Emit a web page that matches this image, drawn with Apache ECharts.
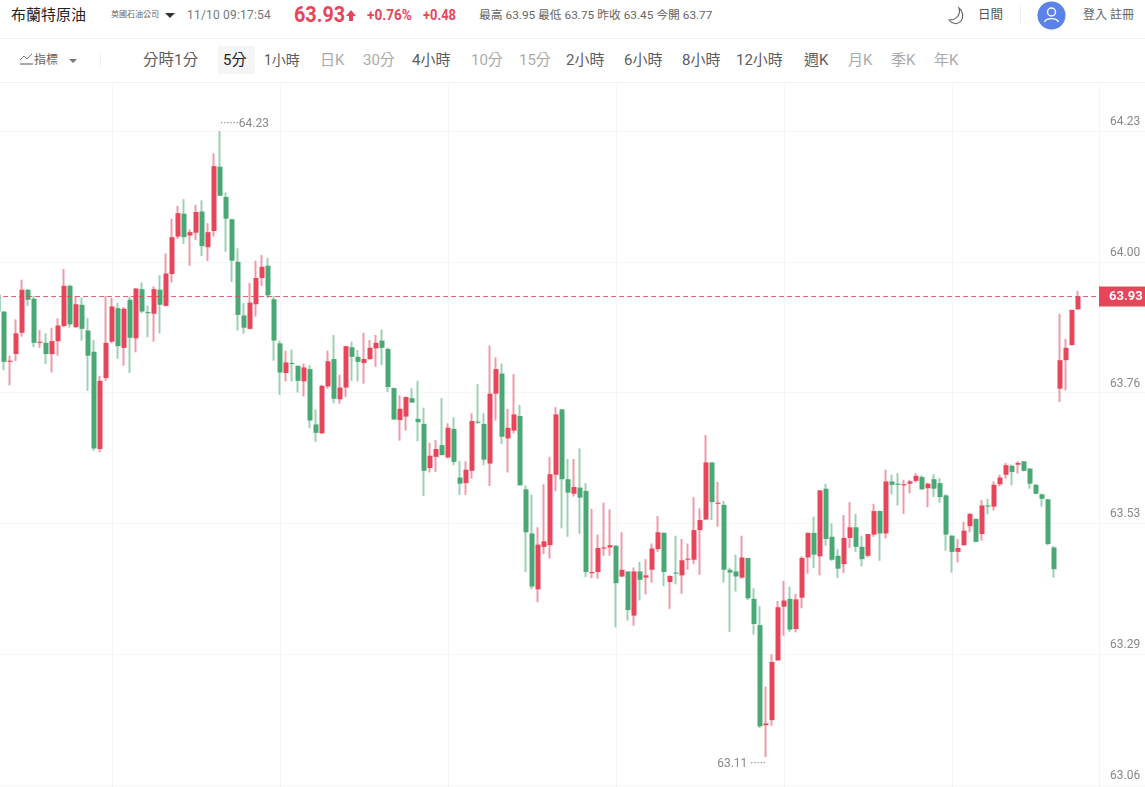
<!DOCTYPE html>
<html>
<head>
<meta charset="utf-8">
<title>布蘭特原油</title>
<script src="https://cdn.jsdelivr.net/npm/echarts@6/dist/echarts.min.js"></script>
<style>
html,body{margin:0;padding:0;background:#fff;width:1145px;height:787px;overflow:hidden;font-family:Roboto,"Noto Sans CJK TC",sans-serif}
.t{position:absolute;white-space:nowrap;line-height:20px;margin-top:-10px}
.r1{top:15px}.r2{top:60px;font-size:15px}
.dim{color:#aaa}.mid{color:#5c5c5c}
.hr{position:absolute;left:0;width:1145px;height:1px;background:#f2f2f2}
.vr{position:absolute;width:1px;background:#f0f0f0}
.red{color:#e8455a;font-weight:700;transform-origin:left center}
#chart{position:absolute;left:-5px;top:83px;width:1150px;height:704px}
</style>
</head>
<body>
<div class="t r1" style="left:11px;font-size:15px;color:#222">布蘭特原油</div>
<div class="t r1" style="left:111px;font-size:8px;color:#666">英國石油公司</div>
<div style="position:absolute;left:165px;top:13px;border:5px solid transparent;border-top:5px solid #333;border-bottom:0"></div>
<div class="t r1" style="left:187px;font-size:12px;color:#777;letter-spacing:.2px">11/10 09:17:54</div>
<div class="t r1 red" style="left:294px;font-size:22px;transform:scaleX(.9)">63.93</div>
<svg style="position:absolute;left:345px;top:9px" width="12" height="13"><path d="M6 1L11 7H8V12H4V7H1Z" fill="#e8455a"/></svg>
<div class="t r1 red" style="left:367px;font-size:14px;transform:scaleX(.97)">+0.76%</div>
<div class="t r1 red" style="left:423px;font-size:14px;transform:scaleX(.92)">+0.48</div>
<div class="t r1" style="left:479px;font-size:11.8px;color:#666">最高 63.95 最低 63.75 昨收 63.45 今開 63.77</div>
<svg style="position:absolute;left:946px;top:5px" width="21" height="21"><path d="M13 3C15 9 11 15 3 15C6 19 12 20 15 16C18 12 17 6 13 3Z" fill="none" stroke="#666" stroke-width="1.2"/></svg>
<div class="t r1" style="left:978px;font-size:12.5px;color:#555">日間</div>
<div class="vr" style="left:1020px;top:6px;height:18px"></div>
<svg style="position:absolute;left:1037px;top:1px" width="29" height="29"><circle cx="14.5" cy="14.5" r="14" fill="#5b82e8"/><circle cx="14.5" cy="11" r="4" fill="none" stroke="#fff" stroke-width="1.4"/><path d="M7.5 21C9 16.5 20 16.5 21.5 21" fill="none" stroke="#fff" stroke-width="1.4"/></svg>
<div class="t r1" style="left:1083px;font-size:12px;color:#666">登入 註冊</div>
<div class="hr" style="top:38px"></div>

<svg style="position:absolute;left:19px;top:53px" width="15" height="14"><path d="M1 7L5 3L8 6L13 1" fill="none" stroke="#777"/><path d="M1 11H14" stroke="#555"/></svg>
<div class="t r2" style="left:34px;font-size:12px;color:#666">指標</div>
<div style="position:absolute;left:69px;top:59px;border:4px solid transparent;border-top:4px solid #777;border-bottom:0"></div>
<div class="vr" style="left:100px;top:54px;height:13px"></div>
<div style="position:absolute;left:218px;top:46px;width:37px;height:28px;background:#f5f5f5;border-radius:2px"></div>
<div class="t r2 mid" style="left:143px;font-size:15.5px">分時1分</div>
<div class="t r2" style="left:223px;color:#222">5分</div>
<div class="t r2 mid" style="left:264px;font-size:14px">1小時</div>
<div class="t r2 dim" style="left:320px">日K</div>
<div class="t r2 dim" style="left:363px">30分</div>
<div class="t r2 mid" style="left:412px">4小時</div>
<div class="t r2 dim" style="left:471px">10分</div>
<div class="t r2 dim" style="left:519px">15分</div>
<div class="t r2 mid" style="left:566px">2小時</div>
<div class="t r2 mid" style="left:624px">6小時</div>
<div class="t r2 mid" style="left:682px">8小時</div>
<div class="t r2 mid" style="left:736px">12小時</div>
<div class="t r2 mid" style="left:804px">週K</div>
<div class="t r2 dim" style="left:848px">月K</div>
<div class="t r2 dim" style="left:891px">季K</div>
<div class="t r2 dim" style="left:934px">年K</div>
<div class="hr" style="top:82px"></div>

<div id="chart"></div>
<script>
// 5分K, prices
const opens = [63.937,63.907,63.817,63.831,63.869,63.946,63.930,63.851,63.851,63.831,
  63.854,63.881,63.953,63.879,63.919,63.873,63.835,63.661,63.788,63.853,
  63.913,63.842,63.928,63.859,63.947,63.906,63.903,63.946,63.917,63.974,
  64.041,64.082,64.043,64.048,64.086,64.022,64.051,64.166,64.112,64.072,
  63.996,63.900,63.876,63.920,63.967,63.989,63.929,63.850,63.797,63.815,
  63.810,63.782,63.804,63.705,63.689,63.773,63.822,63.750,63.771,63.843,
  63.826,63.815,63.822,63.841,63.855,63.840,63.770,63.713,63.719,63.752,
  63.715,63.706,63.627,63.647,63.668,63.646,63.697,63.610,63.600,63.622,
  63.710,63.706,63.635,63.760,63.796,63.680,63.694,63.720,63.589,63.510,
  63.410,63.486,63.489,63.615,63.732,63.607,63.581,63.592,63.586,63.439,
  63.441,63.483,63.485,63.488,63.433,63.442,63.363,63.442,63.431,63.445,
  63.482,63.511,63.423,63.440,63.435,63.463,63.463,63.516,63.535,63.637,
  63.563,63.561,63.445,63.442,63.431,63.466,63.393,63.346,63.167,63.176,
  63.283,63.379,63.393,63.339,63.395,63.467,63.511,63.469,63.590,63.504,
  63.470,63.455,63.502,63.521,63.486,63.470,63.508,63.550,63.510,63.603,
  63.599,63.596,63.599,63.604,63.611,63.591,63.607,63.600,63.578,63.506,
  63.477,63.489,63.523,63.536,63.509,63.560,63.558,63.598,63.615,63.631,
  63.633,63.639,63.626,63.597,63.580,63.571,63.485,63.769,63.820,63.847,63.911];
const closes = [63.907,63.817,63.819,63.868,63.946,63.928,63.851,63.853,63.831,63.854,
  63.882,63.953,63.884,63.920,63.876,63.828,63.662,63.783,63.851,63.916,
  63.845,63.912,63.860,63.948,63.907,63.904,63.947,63.919,63.975,64.040,
  64.083,64.040,64.049,64.085,64.024,64.049,64.167,64.114,64.073,63.998,
  63.901,63.878,63.923,63.967,63.987,63.936,63.855,63.798,63.816,63.813,
  63.783,63.807,63.712,63.690,63.774,63.818,63.751,63.771,63.845,63.826,
  63.817,63.822,63.842,63.851,63.842,63.772,63.714,63.733,63.754,63.744,
  63.709,63.622,63.649,63.661,63.650,63.699,63.638,63.599,63.624,63.711,
  63.708,63.642,63.760,63.804,63.683,63.699,63.723,63.596,63.512,63.415,
  63.490,63.496,63.616,63.723,63.607,63.583,63.593,63.574,63.441,63.441,
  63.484,63.485,63.489,63.421,63.445,63.373,63.442,63.427,63.435,63.483,
  63.512,63.441,63.434,63.438,63.462,63.465,63.516,63.534,63.637,63.566,
  63.565,63.445,63.440,63.433,63.467,63.394,63.348,63.165,63.170,63.280,
  63.378,63.390,63.338,63.392,63.466,63.511,63.472,63.587,63.500,63.463,
  63.447,63.502,63.521,63.486,63.464,63.509,63.550,63.510,63.603,63.597,
  63.597,63.598,63.603,63.613,63.589,63.599,63.590,63.575,63.508,63.477,
  63.484,63.515,63.545,63.495,63.560,63.558,63.597,63.610,63.632,63.620,
  63.636,63.622,63.599,63.581,63.572,63.491,63.446,63.820,63.842,63.910,63.934];
const lows = [63.907,63.802,63.775,63.818,63.862,63.917,63.843,63.842,63.813,63.798,
  63.828,63.879,63.878,63.878,63.855,63.765,63.658,63.655,63.783,63.850,
  63.822,63.810,63.797,63.834,63.904,63.861,63.853,63.868,63.916,63.959,
  64.037,64.028,63.989,64.035,64.006,63.997,64.041,64.114,64.014,63.960,
  63.873,63.867,63.875,63.898,63.953,63.931,63.819,63.758,63.782,63.782,
  63.762,63.755,63.698,63.674,63.688,63.769,63.743,63.742,63.754,63.783,
  63.782,63.778,63.820,63.808,63.811,63.763,63.713,63.676,63.694,63.744,
  63.675,63.577,63.619,63.620,63.650,63.644,63.632,63.579,63.579,63.608,
  63.706,63.632,63.595,63.712,63.670,63.619,63.689,63.596,63.441,63.410,
  63.387,63.473,63.465,63.586,63.519,63.504,63.576,63.509,63.432,63.430,
  63.429,63.470,63.470,63.342,63.432,63.354,63.345,63.390,63.401,63.422,
  63.477,63.416,63.375,63.419,63.402,63.445,63.455,63.436,63.534,63.534,
  63.522,63.422,63.334,63.406,63.429,63.391,63.329,63.162,63.110,63.166,
  63.282,63.327,63.334,63.333,63.376,63.438,63.448,63.435,63.488,63.461,
  63.430,63.439,63.484,63.477,63.451,63.467,63.504,63.461,63.501,63.580,
  63.560,63.545,63.582,63.601,63.588,63.557,63.575,63.565,63.479,63.440,
  63.458,63.488,63.512,63.494,63.497,63.544,63.551,63.594,63.608,63.596,
  63.617,63.621,63.590,63.580,63.558,63.489,63.431,63.745,63.766,63.846,63.910];
const highs = [63.937,63.907,63.828,63.893,63.964,63.947,63.935,63.874,63.868,63.878,
  63.895,63.983,63.955,63.935,63.932,63.895,63.856,63.792,63.935,63.931,
  63.923,63.915,63.934,63.949,63.959,63.918,63.952,63.972,64.011,64.073,
  64.096,64.108,64.054,64.098,64.106,64.065,64.190,64.230,64.120,64.073,
  64.020,63.922,63.958,63.998,64.008,64.003,63.935,63.855,63.837,63.839,
  63.810,63.814,63.811,63.732,63.776,63.837,63.865,63.794,63.845,63.853,
  63.838,63.869,63.856,63.865,63.875,63.843,63.771,63.757,63.755,63.770,
  63.783,63.735,63.672,63.677,63.752,63.707,63.718,63.640,63.639,63.725,
  63.777,63.725,63.846,63.825,63.814,63.733,63.795,63.740,63.596,63.579,
  63.521,63.598,63.647,63.736,63.732,63.643,63.643,63.662,63.600,63.554,
  63.508,63.565,63.553,63.489,63.512,63.442,63.449,63.459,63.464,63.492,
  63.541,63.512,63.435,63.506,63.500,63.492,63.575,63.555,63.686,63.637,
  63.602,63.568,63.449,63.472,63.506,63.466,63.412,63.380,63.236,63.294,
  63.389,63.425,63.415,63.402,63.469,63.512,63.540,63.588,63.599,63.528,
  63.482,63.543,63.566,63.545,63.506,63.509,63.563,63.551,63.624,63.615,
  63.618,63.606,63.606,63.618,63.614,63.601,63.616,63.609,63.580,63.507,
  63.500,63.531,63.546,63.537,63.570,63.572,63.603,63.615,63.636,63.633,
  63.639,63.639,63.627,63.599,63.581,63.572,63.487,63.903,63.858,63.910,63.944];
const priceTicks = [64.23, 63.996, 63.762, 63.528, 63.294, 63.06];
const gridCandles = [19, 47, 75, 103, 131, 159];
const emptySlots = 3;

const upColor = '#e8455a', downColor = '#4aa875';
const upWick = '#f09aa6', downWick = '#9dd0b3';
const gridColor = '#f5f5f5';

const categories = [];
for (let i = 0; i < opens.length + emptySlots; i++) categories.push(String(i));
const wickData = opens.map((o, i) => [o, closes[i], lows[i], highs[i]]);
const bodyData = opens.map((o, i) => [o, closes[i], Math.min(o, closes[i]), Math.max(o, closes[i])]);

const lastPrice = closes[closes.length - 1];
const highPrice = Math.max(...highs), lowPrice = Math.min(...lows);
const highIdx = highs.indexOf(highPrice), lowIdx = lows.indexOf(lowPrice);

let myChart = echarts.init(document.getElementById('chart'));
myChart.setOption({
  animation: false,
  grid: { left: 0, right: 46, top: 0, bottom: 0 },
  xAxis: {
    type: 'category',
    data: categories,
    axisLine: { show: false },
    axisTick: { show: false },
    axisLabel: { show: false },
    splitLine: { show: false }
  },
  yAxis: {
    type: 'value',
    position: 'right',
    scale: true,
    min: 63.0564,
    max: 64.3158,
    axisLine: { show: true, lineStyle: { color: gridColor } },
    axisTick: { show: true, length: 46, customValues: priceTicks, lineStyle: { color: gridColor } },
    axisLabel: {
      customValues: priceTicks,
      color: '#888',
      fontSize: 12,
      fontFamily: 'Roboto',
      margin: 11,
      verticalAlign: 'bottom',
      padding: [0, 0, 3, 0],
      formatter: v => v.toFixed(2)
    },
    splitLine: { show: true, lineStyle: { color: gridColor, width: 1 } }
  },
  series: [
    {
      type: 'line',
      data: [],
      z: 0,
      silent: true,
      markLine: {
        z: 0,
        silent: true,
        symbol: 'none',
        label: { show: false },
        lineStyle: { color: gridColor, type: 'solid', width: 1 },
        data: gridCandles.map(i => ({ xAxis: categories[i] }))
      }
    },
    {
      type: 'candlestick',
      data: wickData,
      barWidth: 1,
      z: 2,
      silent: true,
      itemStyle: { color: upWick, color0: downWick, borderColor: upWick, borderColor0: downWick, borderWidth: 2 }
    },
    {
      type: 'candlestick',
      data: bodyData,
      barWidth: 5,
      z: 3,
      silent: true,
      itemStyle: { color: upColor, color0: downColor, borderColor: upColor, borderColor0: downColor, borderWidth: 0 },
      markLine: {
        silent: true,
        symbol: 'none',
        precision: 3,
        lineStyle: { color: 'rgba(232,69,90,0.85)', type: [5, 3], width: 1 },
        label: {
          show: true,
          position: 'end',
          distance: 0,
          formatter: lastPrice.toFixed(2),
          color: '#fff',
          fontSize: 13,
          fontWeight: 'bold',
          fontFamily: 'Roboto',
          backgroundColor: upColor,
          padding: [4, 5, 3, 10]
        },
        data: [{ yAxis: lastPrice }]
      },
      markPoint: {
        silent: true,
        symbol: 'circle',
        symbolSize: 0,
        label: { show: true, color: '#888', fontSize: 12, fontFamily: 'Roboto' },
        data: [
          { coord: [categories[highIdx], highPrice], label: { position: 'right', distance: 0, offset: [0, -7], formatter: '······' + highPrice.toFixed(2) } },
          { coord: [categories[lowIdx], lowPrice], label: { position: 'left', distance: 0, offset: [0, 7], formatter: lowPrice.toFixed(2) + ' ·····' } }
        ]
      }
    }
  ]
});
window.onresize = function () { myChart.resize() };
</script>
</body>
</html>
